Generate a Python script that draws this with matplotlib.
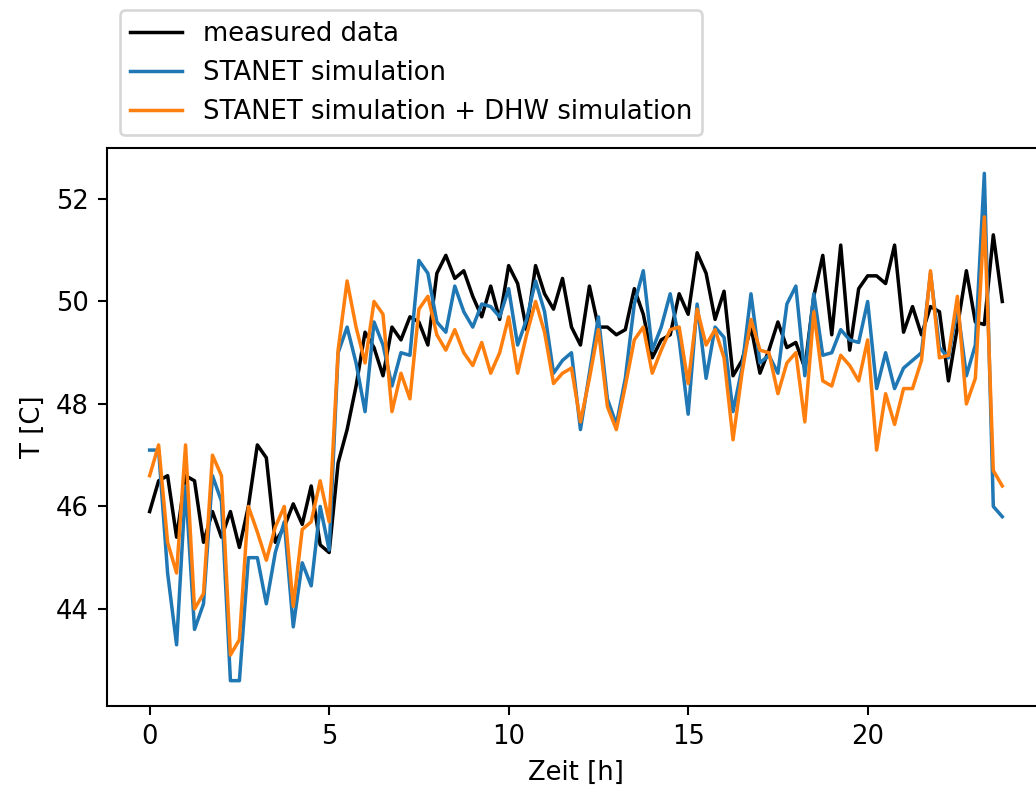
import matplotlib.pyplot as plt
import numpy as np

# 15-min time steps over one day
zeit = np.arange(96) * 0.25

measured = [45.9, 46.5, 46.6, 45.4, 46.6, 46.5, 45.3, 45.9, 45.4, 45.9,
            45.2, 46.0, 47.2, 46.95, 45.3, 45.6, 46.05, 45.65, 46.4, 45.25,
            45.1, 46.85, 47.5, 48.35, 49.4, 49.1, 48.55, 49.5, 49.25, 49.7,
            49.6, 49.15, 50.55, 50.9, 50.45, 50.6, 50.1, 49.7, 50.3, 49.65,
            50.7, 50.35, 49.45, 50.7, 50.15, 49.85, 50.45, 49.5, 49.15, 50.3,
            49.5, 49.5, 49.35, 49.45, 50.25, 49.75, 48.9, 49.25, 49.35, 50.15,
            49.75, 50.95, 50.55, 49.65, 50.2, 48.55, 48.85, 49.5, 48.6, 49.05,
            49.6, 49.1, 49.2, 48.7, 50.1, 50.9, 49.35, 51.1, 49.05, 50.25,
            50.5, 50.5, 50.35, 51.1, 49.4, 49.9, 49.35, 49.9, 49.8, 48.45,
            49.5, 50.6, 49.6, 49.55, 51.3, 50.0]

stanet = [47.1, 47.1, 44.7, 43.3, 46.4, 43.6, 44.1, 46.6, 46.1, 42.6,
          42.6, 45.0, 45.0, 44.1, 45.1, 45.7, 43.65, 44.9, 44.45, 46.0,
          45.15, 49.0, 49.5, 48.8, 47.85, 49.6, 49.15, 48.35, 49.0, 48.95,
          50.8, 50.55, 49.6, 49.4, 50.3, 49.8, 49.5, 49.95, 49.9, 49.7,
          50.25, 49.15, 49.65, 50.4, 49.8, 48.6, 48.85, 49.0, 47.5, 48.6,
          49.7, 48.1, 47.6, 48.5, 49.95, 50.6, 49.05, 49.5, 50.15, 49.25,
          47.8, 49.95, 48.5, 49.5, 49.3, 47.85, 48.7, 50.15, 48.8, 48.95,
          48.6, 49.95, 50.3, 48.55, 50.15, 48.95, 49.0, 49.45, 49.25, 49.2,
          50.0, 48.3, 49.0, 48.3, 48.7, 48.85, 49.0, 50.55, 49.1, 48.9,
          49.9, 48.55, 49.15, 52.5, 46.0, 45.8]

stanet_dhw = [46.6, 47.2, 45.3, 44.7, 47.2, 44.0, 44.3, 47.0, 46.6, 43.1,
              43.4, 46.0, 45.5, 44.95, 45.6, 46.0, 44.05, 45.55, 45.7, 46.5,
              45.7, 49.05, 50.4, 49.5, 48.8, 50.0, 49.75, 47.85, 48.6, 48.1,
              49.85, 50.1, 49.35, 49.05, 49.45, 49.0, 48.75, 49.2, 48.6, 49.0,
              49.7, 48.6, 49.35, 50.0, 49.4, 48.4, 48.6, 48.7, 47.65, 48.5,
              49.45, 47.95, 47.5, 48.35, 49.25, 49.5, 48.6, 49.05, 49.45, 49.5,
              48.4, 49.85, 49.15, 49.45, 48.9, 47.3, 48.6, 49.65, 49.05, 49.0,
              48.2, 48.8, 49.0, 47.65, 49.8, 48.45, 48.35, 48.95, 48.75, 48.45,
              49.25, 47.1, 48.2, 47.6, 48.3, 48.3, 48.85, 50.6, 48.9, 48.95,
              50.1, 48.0, 48.5, 51.65, 46.7, 46.4]

dpi = 186
fig = plt.figure(figsize=(1036 / dpi, 794 / dpi), dpi=dpi)
ax = fig.add_axes([0.1033, 0.1108, 0.9053, 0.7028])

ax.plot(zeit, measured, color="k", lw=1.35, label="measured data")
ax.plot(zeit, stanet, color="tab:blue", lw=1.35, label="STANET simulation")
ax.plot(zeit, stanet_dhw, color="tab:orange", lw=1.35, label="STANET simulation + DHW simulation")

ax.set_xlabel("Zeit [h]")
ax.set_ylabel("T [C]")

# legend sits above the plot area
fig.legend(loc="lower left", bbox_to_anchor=(0.1158, 0.830), borderaxespad=0)

fig.savefig("out.png", dpi=dpi)
